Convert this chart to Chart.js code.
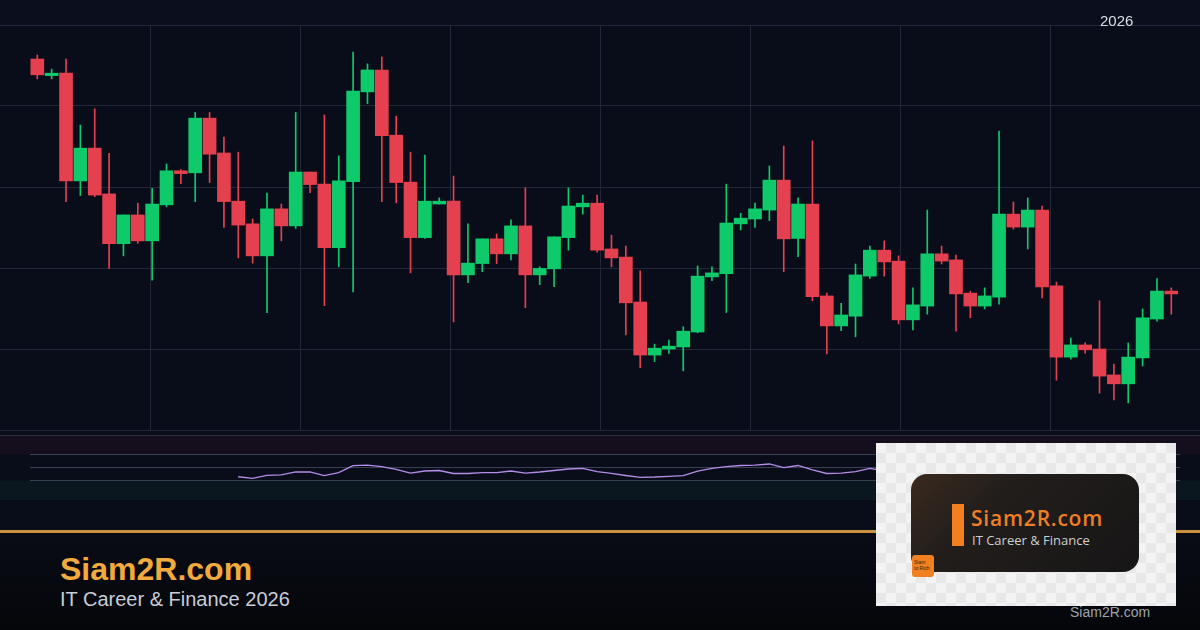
<!DOCTYPE html>
<html>
<head>
<meta charset="utf-8">
<script src="https://cdn.jsdelivr.net/npm/chart.js@4.4.1/dist/chart.umd.min.js"></script>
<style>
  body { margin:0; width:1200px; height:630px; overflow:hidden; background:#090d19; position:relative;
         font-family:"Liberation Sans", Arial, sans-serif; }
  .topband { position:absolute; left:0; top:0; width:1200px; height:25px; background:#0b0f1d; }
  #priceChart { position:absolute; left:0; top:0; }
  #rsiChart { position:absolute; left:0; top:435px; }
  .year { position:absolute; left:1100px; top:13px; font-size:15px; line-height:15px; color:#d9dde6; }
  .rule { position:absolute; left:0; top:530px; width:1200px; height:3px; background:#c8923f; }
  .footer { position:absolute; left:0; top:533px; width:1200px; height:97px; background:linear-gradient(#090c15,#04060a); }
  .brand { position:absolute; left:60px; top:553px; font-size:32px; line-height:32px; font-weight:bold; color:#f2aa3c; }
  .tag { position:absolute; left:60px; top:589px; font-size:20px; line-height:20px; color:#c9cdd6; }
  .site { position:absolute; left:1070px; top:605px; font-size:14px; line-height:14px; color:#9ea3ad; }
  .logo { position:absolute; left:876px; top:443px; width:300px; height:163px; background-color:#f3f3f3;
          background-image:conic-gradient(#e8e8e8 25%, transparent 0 50%, #e8e8e8 0 75%, transparent 0);
          background-size:20px 20px; }
  .logo .card { position:absolute; left:35px; top:31px; width:228px; height:98px; border-radius:16px;
          background:linear-gradient(135deg,#3a2a1f 0%,#211d1b 35%,#171616 100%); }
  .logo .bar { position:absolute; left:41px; top:30px; width:12px; height:42px; background:#f28021; }
  .logo .name { position:absolute; left:60px; top:34px; font-family:"Open Sans"; font-weight:600; font-size:21px;
          line-height:21px; letter-spacing:0.8px; color:#f07e24; }
  .logo .sub { position:absolute; left:61px; top:60px; font-family:"Open Sans"; font-size:13px; line-height:13px; color:#cfcfcf; }
  .logo .badge { position:absolute; left:36px; top:112px; width:22px; height:22px; border-radius:3px; background:#f08020;
          font-family:"Liberation Sans"; font-size:5px; line-height:6px; color:#3a1e08; padding:4px 0 0 2px; box-sizing:border-box; }
</style>
</head>
<body>
<div class="topband"></div>
<canvas id="priceChart" width="1200" height="440"></canvas>
<canvas id="rsiChart" width="1200" height="65"></canvas>
<div class="year">2026</div>
<div class="footer"></div>
<div class="rule"></div>
<div class="brand">Siam2R.com</div>
<div class="tag">IT Career &amp; Finance 2026</div>
<div class="site">Siam2R.com</div>
<div class="logo">
  <div class="card">
    <div class="bar"></div>
    <div class="name">Siam2R.com</div>
    <div class="sub">IT Career &amp; Finance</div>
  </div>
  <div class="badge">Siam<br>to Rich</div>
</div>
<script>
// candles (price units, chart scale 0-100)
const opens = [91.6,87.5,88.1,61.5,69.6,58.3,46.0,53.1,46.7,55.6, 64.0,63.5,77.0,68.4,56.5,50.9,43.0,54.6,50.4,63.7,
  60.7,45.0,61.3,83.5,88.9,72.8,61.2,47.5,55.8,56.5, 38.3,41.1,47.2,43.5,50.4,38.3,39.8,47.5,55.1,56.0,
  44.7,42.7,31.6,18.5,20.0,20.5,24.2,37.8,38.6,50.9, 52.1,54.3,61.7,47.3,55.8,33.1,25.7,28.1,38.0,44.4,
  41.7,27.2,30.6,43.5,42.0,33.8,30.6,32.8,53.3,50.1, 54.3,35.6,18.0,21.0,20.0,13.6,11.4,17.8,27.4,34.3];
const highs = [92.6,89.1,91.6,75.3,79.3,68.3,53.1,56.0,59.7,65.7, 64.3,78.4,78.4,72.3,68.6,52.1,58.5,55.8,78.4,63.7,
  77.8,67.7,93.3,90.4,92.1,77.5,68.6,67.9,57.3,62.7, 50.9,47.2,48.4,51.9,59.8,40.3,47.7,59.8,58.0,58.0,
  48.1,45.4,39.3,21.2,22.2,25.5,40.5,40.3,60.7,53.5, 56.0,65.2,70.1,57.3,71.4,33.8,31.3,41.0,45.4,46.7,
  43.0,35.1,54.3,45.4,43.2,34.3,35.1,73.8,56.3,57.3, 55.3,36.5,22.7,21.5,31.9,16.3,21.5,29.9,37.4,35.1];
const lows = [86.7,86.7,56.4,57.9,57.6,39.9,43.0,46.1,37.0,55.1, 60.8,56.4,61.1,50.0,42.5,41.2,29.0,46.7,49.8,58.6,
  30.7,40.3,34.1,80.6,56.4,56.1,38.8,47.3,55.8,26.7, 36.4,39.1,41.1,42.0,30.2,35.9,35.4,44.4,53.3,43.9,
  40.3,23.5,15.4,16.9,18.9,14.6,24.0,36.9,29.0,49.4, 50.0,51.7,39.1,42.8,31.9,18.8,24.5,23.0,37.4,38.0,
  26.2,24.7,28.6,41.0,24.4,27.7,29.9,31.1,49.6,44.7, 32.6,12.3,17.5,19.0,9.1,7.4,6.7,15.8,26.9,28.6];
const closes = [87.7,88.1,61.5,69.6,58.0,46.0,53.1,46.7,55.8,64.0, 63.3,77.0,68.1,56.4,50.6,43.0,54.6,50.4,63.7,60.6,
  45.0,61.5,83.7,88.9,72.7,61.1,47.5,56.5,56.5,38.3, 41.2,47.2,43.5,50.4,38.3,39.9,47.7,55.3,56.0,44.4,
  42.5,31.4,18.5,20.2,20.7,24.4,38.0,38.8,51.1,52.3, 54.6,61.7,47.2,55.8,32.9,25.7,28.4,38.3,44.4,41.5,
  27.2,30.9,43.5,41.7,33.6,30.6,33.1,53.3,50.1,54.3, 35.3,18.0,21.0,19.8,13.3,11.4,18.0,27.7,34.3,33.6];

// RSI(14), first 14 bars have no value
const rsiValues = [null,null,null,null,null,null,null,null,null,null,null,null,null,null,
  35.8,33.4,38.0,38.5,43.1,43.1,37.4,42.0,52.8,53.8, 51.2,47.2,41.5,44.6,45.4,40.8,40.8,42.0,42.0,44.6,
  41.5,43.1,45.4,47.7,48.5,43.8,40.8,37.7,34.9,35.4, 36.5,37.4,44.6,48.8,51.5,53.1,53.8,55.4,49.7,53.1,
  46.2,40.8,41.5,43.8,48.5, 45,40,42,48,47,43,41,42,53,52,53,44,35,36,35,31,30,35,40,45,44];
const rsiLevels = [30, 50, 70];

const upColor = '#0fca6b';
const downColor = '#e5404f';
const gridColor = '#22273a';

const idx = opens.map((_, i) => i);
const candleColor = ctx => closes[ctx.dataIndex] >= opens[ctx.dataIndex] ? upColor : downColor;

new Chart(document.getElementById('priceChart'), {
  type: 'bar',
  data: {
    datasets: [
      { data: idx.map(i => ({ x: i, y: [lows[i], highs[i]] })), barThickness: 1, backgroundColor: candleColor },
      { data: idx.map(i => ({ x: i, y: [opens[i], closes[i]] })), barThickness: 13, backgroundColor: candleColor }
    ]
  },
  options: {
    responsive: false,
    animation: false,
    datasets: { bar: { grouped: false } },
    layout: { padding: { top: 25, bottom: 10 } },
    plugins: { legend: { display: false }, tooltip: { enabled: false } },
    scales: {
      x: {
        type: 'linear', min: -2.6, max: 81, offset: false,
        grid: { color: gridColor, offset: false, drawTicks: false },
        border: { display: false },
        ticks: { display: false },
        afterBuildTicks: s => { s.ticks = [1, 2, 3, 4, 5, 6, 7].map(k => ({ value: s.min + k * (s.max - s.min) / 8 })); }
      },
      y: {
        min: 0, max: 100,
        grid: { color: gridColor, drawTicks: false },
        border: { display: false },
        ticks: { display: false, stepSize: 20 }
      }
    }
  }
});

const rsiBands = {
  id: 'rsiBands',
  beforeDraw(chart) {
    const c = chart.ctx, y = chart.scales.y, w = chart.width;
    c.save();
    c.fillStyle = '#150f1d';
    c.fillRect(0, y.getPixelForValue(100), w, y.getPixelForValue(70) - y.getPixelForValue(100));
    c.fillStyle = '#0a171e';
    c.fillRect(0, y.getPixelForValue(30), w, y.getPixelForValue(0) - y.getPixelForValue(30));
    c.fillStyle = '#2a2d3d';
    c.fillRect(0, 0, w, 1);
    c.restore();
  }
};

new Chart(document.getElementById('rsiChart'), {
  type: 'line',
  data: {
    datasets: [{
      data: idx.map(i => ({ x: i, y: rsiValues[i] })),
      borderColor: '#b48cea', borderWidth: 1.3, pointRadius: 0, tension: 0
    }]
  },
  options: {
    responsive: false,
    animation: false,
    layout: { padding: { left: 30, right: 20 } },
    plugins: { legend: { display: false }, tooltip: { enabled: false } },
    scales: {
      x: { type: 'linear', min: -0.5, max: 79.6, display: false },
      y: {
        min: 0, max: 100,
        grid: { color: '#3a3f52', drawTicks: false },
        border: { display: false },
        ticks: { display: false },
        afterBuildTicks: s => { s.ticks = rsiLevels.map(v => ({ value: v })); }
      }
    }
  },
  plugins: [rsiBands]
});
</script>
</body>
</html>
